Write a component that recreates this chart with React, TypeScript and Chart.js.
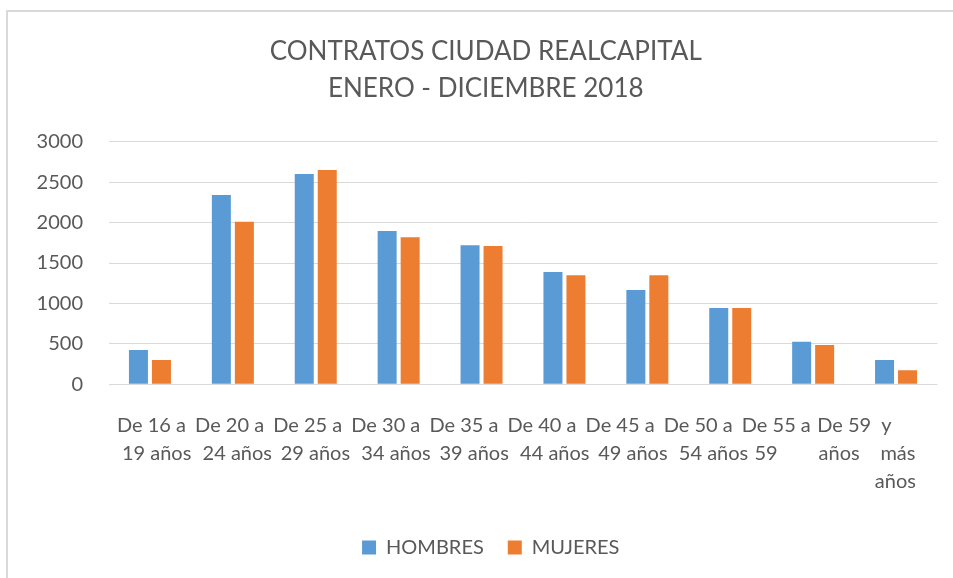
import React, { useEffect, useRef } from "react";
import { Chart, registerables } from "chart.js";

Chart.register(...registerables);

const TITLE_LINES = ["CONTRATOS CIUDAD REALCAPITAL", "ENERO - DICIEMBRE 2018"];
const CATEGORIES: string[][] = [
  ["De 16 a", "19 años"],
  ["De 20 a", "24 años"],
  ["De 25 a", "29 años"],
  ["De 30 a", "34 años"],
  ["De 35 a", "39 años"],
  ["De 40 a", "44 años"],
  ["De 45 a", "49 años"],
  ["De 50 a", "54 años"],
  ["De 55 a", "59        años"],
  ["De 59  y", "más", "años"],
];
const HOMBRES = [425, 2340, 2600, 1895, 1720, 1390, 1165, 945, 525, 300];
const MUJERES = [300, 2010, 2650, 1820, 1710, 1350, 1350, 945, 485, 175];
const Y_MIN = 0;
const Y_MAX = 3000;
const Y_STEP = 500;

// layout only: leading spaces per label line (label text is laid out like the source)
const LINE_INDENT: number[][] = [
  [0, 2],
  [0, 3],
  [0, 3],
  [0, 4],
  [0, 4],
  [0, 5],
  [0, 5],
  [0, 6],
  [0, 12],
  [0, 17, 16],
];

const FONT = "Lato, 'Open Sans', sans-serif";
const TEXT = "#595959";
const GRID = "#D9D9D9";

const boxShift = {
  id: "boxShift",
  afterLayout(chart: any) {
    const lg = chart.legend;
    if (lg) {
      lg.left += 18;
      lg.right += 18;
    }
    const tb = chart.titleBlock;
    if (tb) {
      tb.left += 13;
      tb.right += 13;
    }
  },
};

function labelLines(i: number): string[] {
  const lines = CATEGORIES[i] || [];
  const ind = LINE_INDENT[i] || [];
  return lines.map((l, k) => " ".repeat(ind[k] || 0) + l);
}

export default function App() {
  const ref = useRef<HTMLCanvasElement | null>(null);

  useEffect(() => {
    if (!ref.current) return;
    const chart = new Chart(ref.current, {
      type: "bar",
      data: {
        labels: CATEGORIES.map((c) => c.join(" ")),
        datasets: [
          {
            label: "HOMBRES",
            data: HOMBRES,
            backgroundColor: "#5B9BD5",
            categoryPercentage: 0.555,
            barPercentage: 0.826,
          },
          {
            label: "MUJERES",
            data: MUJERES,
            backgroundColor: "#ED7D31",
            categoryPercentage: 0.555,
            barPercentage: 0.826,
          },
        ],
      },
      options: {
        animation: false,
        responsive: false,
        maintainAspectRatio: false,
        layout: { padding: { left: 0, right: 15.5, top: 0, bottom: 10.5 } },
        plugins: {
          tooltip: { enabled: false },
          title: {
            display: true,
            text: TITLE_LINES,
            color: TEXT,
            font: { family: FONT, size: 26, weight: "normal", lineHeight: 1.404 },
            padding: { top: 21.5, bottom: 35.25 },
          },
          legend: {
            position: "bottom",
            labels: {
              color: TEXT,
              font: { family: FONT, size: 20 },
              boxWidth: 14,
              boxHeight: 14,
              padding: 24,
            },
          },
        },
        scales: {
          x: {
            display: false,
          },
          xl: {
            type: "linear",
            position: "bottom",
            offset: false,
            min: -0.5506,
            max: 10.064,
            grid: { display: false, drawTicks: false, offset: false },
            border: { display: false },
            afterBuildTicks: (scale: any) => {
              scale.ticks = CATEGORIES.map((_, i) => ({ value: i }));
            },
            ticks: {
              color: TEXT,
              font: { family: FONT, size: 20, lineHeight: 1.4 },
              padding: 27,
              maxRotation: 0,
              minRotation: 0,
              autoSkip: false,
              callback: (_v: any, index: number) => labelLines(index),
            },
            afterFit: (scale: any) => {
              scale.height = 129.2;
              scale.paddingLeft = 0;
              scale.paddingRight = 0;
            },
          },
          y: {
            min: Y_MIN,
            max: Y_MAX,
            grid: { color: GRID, lineWidth: 1, drawTicks: false },
            border: { display: false },
            ticks: {
              stepSize: Y_STEP,
              color: TEXT,
              font: { family: FONT, size: 20 },
              padding: 25.5,
              callback: (v: any) => String(v),
            },
            afterFit: (scale: any) => {
              scale.width = 100.5;
              scale.paddingTop = 0;
              scale.paddingBottom = 0;
            },
          },
        },
      } as any,
      plugins: [boxShift],
    });
    return () => chart.destroy();
  }, []);

  return (
    <div
      style={{
        position: "fixed",
        left: 6,
        top: 10,
        width: 945,
        height: 580,
        border: "2px solid #D9D9D9",
        background: "#fff",
      }}
    >
      <canvas ref={ref} width={945} height={566} style={{ display: "block" }} />
    </div>
  );
}
